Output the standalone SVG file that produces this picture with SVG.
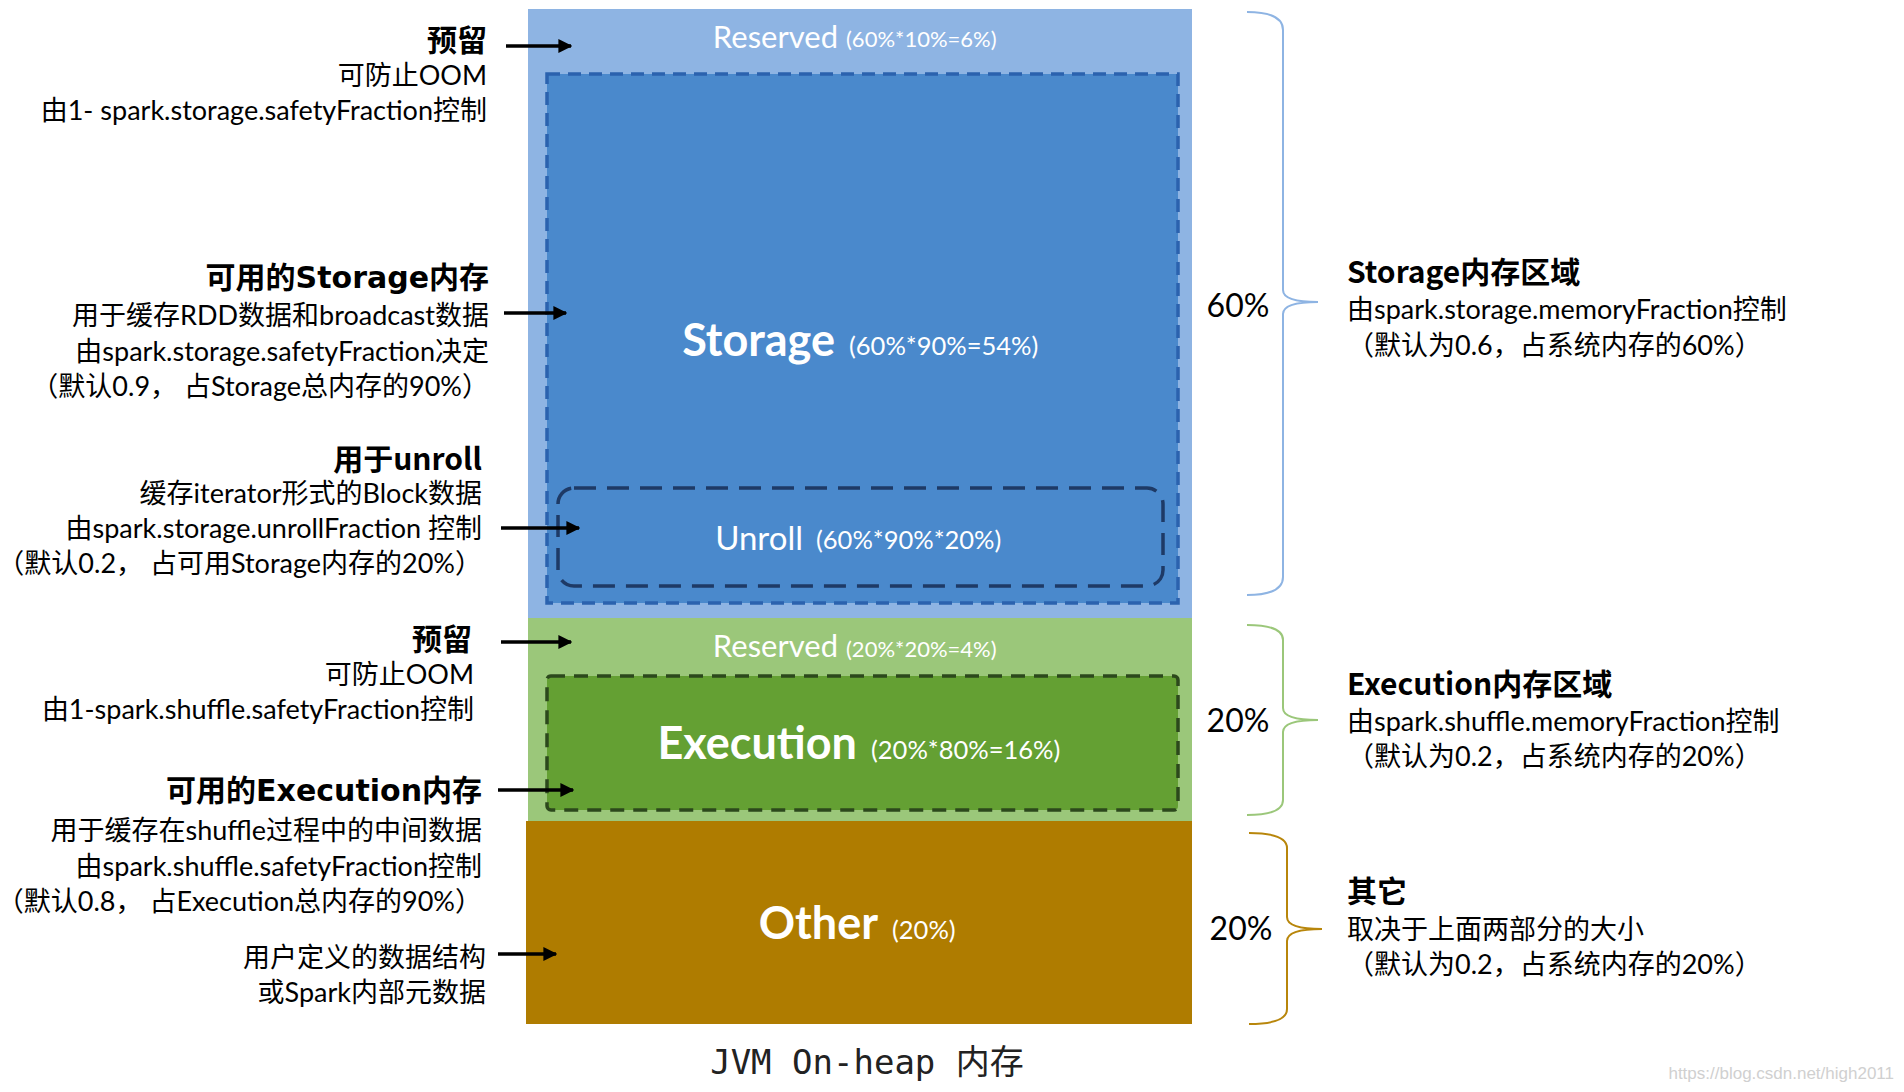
<svg xmlns="http://www.w3.org/2000/svg" width="1904" height="1092" viewBox="0 0 1904 1092">
<style>
text{font-family:"Lato","Noto Sans CJK SC",sans-serif;dominant-baseline:central;}
.lt{text-anchor:end;font-size:27px;fill:#000;}
.lh{text-anchor:end;font-size:30px;font-weight:bold;fill:#000;font-family:"Noto Sans CJK SC",sans-serif;}
.wide{font-family:"DejaVu Sans","Noto Sans CJK SC",sans-serif;}
.rt{font-size:27px;fill:#000;}
.rh{font-size:30px;font-weight:bold;fill:#000;font-family:"Noto Sans CJK SC",sans-serif;}
.pct{font-size:32px;fill:#000;text-anchor:middle;}
.w{fill:#fff;}
.big{font-size:45px;font-weight:bold;}
.mid{font-size:31px;}
.sm{font-size:22px;}
.sm2{font-size:25.5px;}
.arrow{stroke:#000;stroke-width:3.5;fill:none;marker-end:url(#ah);}
.brace{fill:none;stroke-width:2;}
</style>
<defs>
<marker id="ah" viewBox="0 0 10 10" refX="9" refY="5" markerWidth="4" markerHeight="4" orient="auto" markerUnits="strokeWidth">
<path d="M0,0 L10,5 L0,10 z" fill="#000"/>
</marker>
</defs>
<rect width="1904" height="1092" fill="#fff"/>

<g id="storage-region">
<rect x="528" y="9" width="664" height="609" fill="#8EB4E3"/>
<text x="838" y="36" class="w mid" text-anchor="end">Reserved</text>
<text x="846" y="38" class="w sm">(60%*10%=6%)</text>
</g>
<g id="storage">
<rect x="547" y="74" width="631" height="529" fill="#4A89CC" stroke="#2B62AE" stroke-width="3.5" stroke-dasharray="13 8"/>
<text x="835" y="339" class="w big" text-anchor="end">Storage</text>
<text x="849" y="345" class="w sm2">(60%*90%=54%)</text>
</g>
<g id="unroll">
<rect x="558" y="488" width="605" height="98" rx="16" fill="none" stroke="#1E3A66" stroke-width="3.5" stroke-dasharray="22 11"/>
<text x="803" y="537" class="w" style="font-size:33px" text-anchor="end">Unroll</text>
<text x="816" y="539" class="w" style="font-size:25.5px">(60%*90%*20%)</text>
</g>
<g id="execution-region">
<rect x="528" y="618" width="664" height="203" fill="#9BC77A"/>
<text x="838" y="645" class="w mid" text-anchor="end">Reserved</text>
<text x="846" y="648" class="w sm">(20%*20%=4%)</text>
</g>
<g id="execution">
<rect x="547" y="676" width="631" height="134" rx="4" fill="#64A033" stroke="#2C481C" stroke-width="3.5" stroke-dasharray="14 9"/>
<text x="857" y="742" class="w big" text-anchor="end">Execution</text>
<text x="871" y="749" class="w sm2">(20%*80%=16%)</text>
</g>
<g id="other">
<rect x="526" y="821" width="666" height="203" fill="#AF7C00"/>
<text x="878" y="922" class="w big" text-anchor="end">Other</text>
<text x="892" y="929" class="w sm2">(20%)</text>
</g>

<g id="connectors">
<line class="arrow" x1="506" y1="46" x2="571" y2="46"/>
<line class="arrow" x1="504" y1="313" x2="566" y2="313"/>
<line class="arrow" x1="501" y1="528" x2="579" y2="528"/>
<line class="arrow" x1="501" y1="642" x2="571" y2="642"/>
<line class="arrow" x1="498" y1="790" x2="573" y2="790"/>
<line class="arrow" x1="498" y1="954" x2="556" y2="954"/>
<path class="brace" stroke="#8EB4E3" d="M1247,12 Q1283,12 1283,30 L1283,290 Q1283,302 1318,302 Q1283,302 1283,314 L1283,577 Q1283,595 1247,595"/>
<path class="brace" stroke="#9BC77A" d="M1247,625 Q1283,625 1283,640 L1283,708 Q1283,720 1318,720 Q1283,720 1283,732 L1283,800 Q1283,815 1247,815"/>
<path class="brace" stroke="#B8860B" d="M1249,833 Q1287,833 1287,848 L1287,917 Q1287,929 1322,929 Q1287,929 1287,941 L1287,1009 Q1287,1024 1249,1024"/>
</g>

<g id="label-reserved-storage">
<text x="487" y="38" class="lh">预留</text>
<text x="487" y="74" class="lt">可防止OOM</text>
<text x="487" y="109" class="lt">由1- spark.storage.safetyFraction控制</text>
</g>
<g id="label-storage">
<text x="489" y="277" class="lh wide">可用的Storage内存</text>
<text x="489" y="314" class="lt">用于缓存RDD数据和broadcast数据</text>
<text x="489" y="350" class="lt">由spark.storage.safetyFraction决定</text>
<text x="489" y="385" class="lt">（默认0.9， 占Storage总内存的90%）</text>
</g>
<g id="label-unroll">
<text x="482" y="457" class="lh">用于unroll</text>
<text x="482" y="492" class="lt">缓存iterator形式的Block数据</text>
<text x="482" y="527" class="lt">由spark.storage.unrollFraction 控制</text>
<text x="482" y="562" class="lt">（默认0.2， 占可用Storage内存的20%）</text>
</g>
<g id="label-reserved-execution">
<text x="472" y="637" class="lh">预留</text>
<text x="474" y="673" class="lt">可防止OOM</text>
<text x="474" y="708" class="lt">由1-spark.shuffle.safetyFraction控制</text>
</g>
<g id="label-execution">
<text x="482" y="790" class="lh wide">可用的Execution内存</text>
<text x="482" y="829" class="lt">用于缓存在shuffle过程中的中间数据</text>
<text x="482" y="865" class="lt">由spark.shuffle.safetyFraction控制</text>
<text x="482" y="900" class="lt">（默认0.8， 占Execution总内存的90%）</text>
</g>
<g id="label-other">
<text x="486" y="956" class="lt">用户定义的数据结构</text>
<text x="486" y="991" class="lt">或Spark内部元数据</text>
</g>

<g id="pct-storage"><text x="1238" y="304" class="pct">60%</text></g>
<g id="pct-execution"><text x="1238" y="719" class="pct">20%</text></g>
<g id="pct-other"><text x="1241" y="927" class="pct">20%</text></g>

<g id="desc-storage">
<text x="1347" y="270" class="rh wide">Storage内存区域</text>
<text x="1347" y="308" class="rt">由spark.storage.memoryFraction控制</text>
<text x="1347" y="344" class="rt">（默认为0.6，占系统内存的60%）</text>
</g>
<g id="desc-execution">
<text x="1347" y="682" class="rh">Execution内存区域</text>
<text x="1347" y="720" class="rt">由spark.shuffle.memoryFraction控制</text>
<text x="1347" y="755" class="rt">（默认为0.2，占系统内存的20%）</text>
</g>
<g id="desc-other">
<text x="1347" y="889" class="rh">其它</text>
<text x="1347" y="928" class="rt">取决于上面两部分的大小</text>
<text x="1347" y="963" class="rt">（默认为0.2，占系统内存的20%）</text>
</g>

<g id="caption">
<text x="867" y="1062" text-anchor="middle" style="font-family:'DejaVu Sans Mono','Noto Sans CJK SC',monospace;font-size:34px;fill:#222;">JVM On-heap 内存</text>
</g>
<text x="1894" y="1073" text-anchor="end" style="font-family:'Liberation Sans',sans-serif;font-size:17px;fill:#d0d0d0;">https://blog.csdn.net/high2011</text>
</svg>
